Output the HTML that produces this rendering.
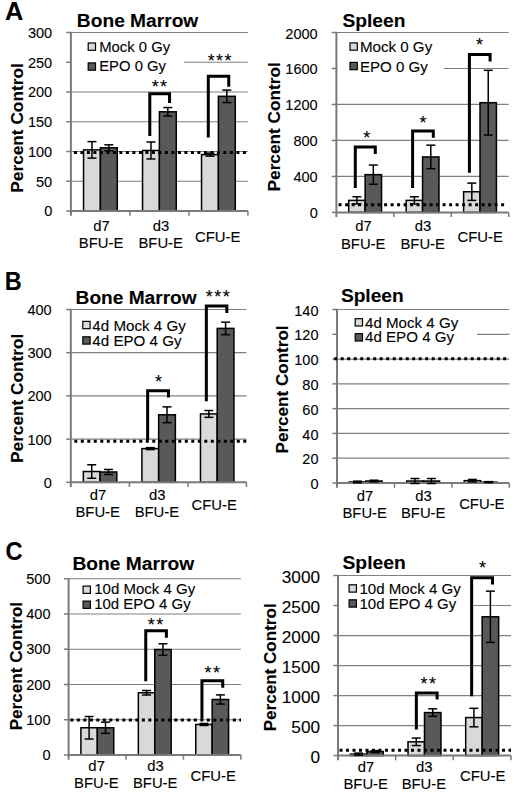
<!DOCTYPE html>
<html><head><meta charset="utf-8"><style>
html,body{margin:0;padding:0;background:#fff;}
svg{display:block;font-family:"Liberation Sans", sans-serif;}
text{stroke:#000;stroke-width:0.1px;}
</style></head><body>
<svg width="520" height="796" viewBox="0 0 520 796">
<rect width="520" height="796" fill="#fff"/>
<line x1="70.9" y1="181.25" x2="247.9" y2="181.25" stroke="#808080" stroke-width="1.2"/>
<line x1="70.9" y1="151.5" x2="247.9" y2="151.5" stroke="#808080" stroke-width="1.2"/>
<line x1="70.9" y1="121.75" x2="247.9" y2="121.75" stroke="#808080" stroke-width="1.2"/>
<line x1="70.9" y1="92.0" x2="247.9" y2="92.0" stroke="#808080" stroke-width="1.2"/>
<line x1="70.9" y1="62.25" x2="247.9" y2="62.25" stroke="#808080" stroke-width="1.2"/>
<line x1="70.9" y1="32.5" x2="247.9" y2="32.5" stroke="#808080" stroke-width="1.2"/>
<rect x="71.5" y="57" width="112.5" height="10" fill="#fff"/>
<rect x="83.54" y="149.87" width="16.86" height="61.13" fill="#d9d9d9" stroke="#000" stroke-width="1.5"/>
<rect x="100.40" y="147.79" width="16.86" height="63.21" fill="#595959" stroke="#000" stroke-width="1.5"/>
<rect x="142.54" y="150.47" width="16.86" height="60.53" fill="#d9d9d9" stroke="#000" stroke-width="1.5"/>
<rect x="159.40" y="111.79" width="16.86" height="99.21" fill="#595959" stroke="#000" stroke-width="1.5"/>
<rect x="201.54" y="154.63" width="16.86" height="56.37" fill="#d9d9d9" stroke="#000" stroke-width="1.5"/>
<rect x="218.40" y="96.32" width="16.86" height="114.68" fill="#595959" stroke="#000" stroke-width="1.5"/>
<line x1="70.9" y1="31.9" x2="70.9" y2="215.7" stroke="#7a7a7a" stroke-width="2"/>
<line x1="66.3" y1="211.0" x2="70.9" y2="211.0" stroke="#7a7a7a" stroke-width="1.5"/>
<line x1="66.3" y1="181.25" x2="70.9" y2="181.25" stroke="#7a7a7a" stroke-width="1.5"/>
<line x1="66.3" y1="151.5" x2="70.9" y2="151.5" stroke="#7a7a7a" stroke-width="1.5"/>
<line x1="66.3" y1="121.75" x2="70.9" y2="121.75" stroke="#7a7a7a" stroke-width="1.5"/>
<line x1="66.3" y1="92.0" x2="70.9" y2="92.0" stroke="#7a7a7a" stroke-width="1.5"/>
<line x1="66.3" y1="62.25" x2="70.9" y2="62.25" stroke="#7a7a7a" stroke-width="1.5"/>
<line x1="66.3" y1="32.5" x2="70.9" y2="32.5" stroke="#7a7a7a" stroke-width="1.5"/>
<line x1="70.9" y1="211" x2="247.9" y2="211" stroke="#7a7a7a" stroke-width="2"/>
<line x1="129.9" y1="211" x2="129.9" y2="215.7" stroke="#7a7a7a" stroke-width="1.5"/>
<line x1="188.9" y1="211" x2="188.9" y2="215.7" stroke="#7a7a7a" stroke-width="1.5"/>
<line x1="247.9" y1="211" x2="247.9" y2="215.7" stroke="#7a7a7a" stroke-width="1.5"/>
<text x="44.13" y="216.40" font-size="15" textLength="8.09" lengthAdjust="spacingAndGlyphs">0</text>
<text x="36.03" y="186.65" font-size="15" textLength="16.18" lengthAdjust="spacingAndGlyphs">50</text>
<text x="27.93" y="156.90" font-size="15" textLength="24.28" lengthAdjust="spacingAndGlyphs">100</text>
<text x="27.93" y="127.15" font-size="15" textLength="24.28" lengthAdjust="spacingAndGlyphs">150</text>
<text x="27.93" y="97.40" font-size="15" textLength="24.28" lengthAdjust="spacingAndGlyphs">200</text>
<text x="27.93" y="67.65" font-size="15" textLength="24.28" lengthAdjust="spacingAndGlyphs">250</text>
<text x="27.93" y="37.90" font-size="15" textLength="24.28" lengthAdjust="spacingAndGlyphs">300</text>
<line x1="73.9" y1="152.60" x2="248" y2="152.60" stroke="#000" stroke-width="3" stroke-dasharray="3 3.5"/>
<line x1="91.97" y1="141.62" x2="91.97" y2="158.12" stroke="#000" stroke-width="1.5"/>
<line x1="87.47" y1="141.62" x2="96.47" y2="141.62" stroke="#000" stroke-width="1.5"/>
<line x1="87.47" y1="158.12" x2="96.47" y2="158.12" stroke="#000" stroke-width="1.5"/>
<line x1="108.83" y1="144.79" x2="108.83" y2="150.79" stroke="#000" stroke-width="1.5"/>
<line x1="104.33" y1="144.79" x2="113.33" y2="144.79" stroke="#000" stroke-width="1.5"/>
<line x1="104.33" y1="150.79" x2="113.33" y2="150.79" stroke="#000" stroke-width="1.5"/>
<line x1="150.97" y1="141.97" x2="150.97" y2="158.97" stroke="#000" stroke-width="1.5"/>
<line x1="146.47" y1="141.97" x2="155.47" y2="141.97" stroke="#000" stroke-width="1.5"/>
<line x1="146.47" y1="158.97" x2="155.47" y2="158.97" stroke="#000" stroke-width="1.5"/>
<line x1="167.83" y1="107.54" x2="167.83" y2="116.04" stroke="#000" stroke-width="1.5"/>
<line x1="163.33" y1="107.54" x2="172.33" y2="107.54" stroke="#000" stroke-width="1.5"/>
<line x1="163.33" y1="116.04" x2="172.33" y2="116.04" stroke="#000" stroke-width="1.5"/>
<line x1="209.97" y1="153.13" x2="209.97" y2="156.13" stroke="#000" stroke-width="1.5"/>
<line x1="205.47" y1="153.13" x2="214.47" y2="153.13" stroke="#000" stroke-width="1.5"/>
<line x1="205.47" y1="156.13" x2="214.47" y2="156.13" stroke="#000" stroke-width="1.5"/>
<line x1="226.83" y1="90.07" x2="226.83" y2="102.57" stroke="#000" stroke-width="1.5"/>
<line x1="222.33" y1="90.07" x2="231.33" y2="90.07" stroke="#000" stroke-width="1.5"/>
<line x1="222.33" y1="102.57" x2="231.33" y2="102.57" stroke="#000" stroke-width="1.5"/>
<polyline points="149.8,135.9 149.8,93.8 169.55,93.8 169.55,102.9" fill="none" stroke="#000" stroke-width="3"/>
<text x="151.68" y="92.95" font-size="18" textLength="7.00" lengthAdjust="spacingAndGlyphs">*</text>
<text x="160.12" y="92.95" font-size="18" textLength="7.00" lengthAdjust="spacingAndGlyphs">*</text>
<polyline points="208.3,137.6 208.3,76.3 228.75,76.3 228.75,86.8" fill="none" stroke="#000" stroke-width="3"/>
<text x="207.65" y="66.95" font-size="18" textLength="7.00" lengthAdjust="spacingAndGlyphs">*</text>
<text x="216.10" y="66.95" font-size="18" textLength="7.00" lengthAdjust="spacingAndGlyphs">*</text>
<text x="224.55" y="66.95" font-size="18" textLength="7.00" lengthAdjust="spacingAndGlyphs">*</text>
<rect x="88.19999999999999" y="43.0" width="7.3" height="7.3" fill="#d9d9d9" stroke="#000" stroke-width="1.2"/>
<text x="99.23" y="52.30" font-size="14.0" textLength="70.98" lengthAdjust="spacingAndGlyphs">Mock 0 Gy</text>
<rect x="88.19999999999999" y="62.9" width="7.3" height="7.3" fill="#595959" stroke="#000" stroke-width="1.2"/>
<text x="99.23" y="71.40" font-size="14.0" textLength="66.80" lengthAdjust="spacingAndGlyphs">EPO 0 Gy</text>
<text x="76.89" y="26.70" font-size="17.5" font-weight="bold" textLength="121.40" lengthAdjust="spacingAndGlyphs">Bone Marrow</text>
<text x="93.19" y="231.30" font-size="14" textLength="16.51" lengthAdjust="spacingAndGlyphs">d7</text>
<text x="78.85" y="248.30" font-size="14" textLength="44.52" lengthAdjust="spacingAndGlyphs">BFU-E</text>
<text x="152.76" y="231.30" font-size="14" textLength="16.51" lengthAdjust="spacingAndGlyphs">d3</text>
<text x="138.45" y="248.30" font-size="14" textLength="44.52" lengthAdjust="spacingAndGlyphs">BFU-E</text>
<text x="195.06" y="241.50" font-size="14" textLength="45.34" lengthAdjust="spacingAndGlyphs">CFU-E</text>
<text transform="translate(22.80,192.68) rotate(-90)" x="0" y="0" font-size="16" font-weight="bold" textLength="129.39" lengthAdjust="spacingAndGlyphs">Percent Control</text>
<line x1="336.4" y1="176.42" x2="508.75" y2="176.42" stroke="#808080" stroke-width="1.2"/>
<line x1="336.4" y1="140.44" x2="508.75" y2="140.44" stroke="#808080" stroke-width="1.2"/>
<line x1="336.4" y1="104.46" x2="508.75" y2="104.46" stroke="#808080" stroke-width="1.2"/>
<line x1="336.4" y1="68.48" x2="508.75" y2="68.48" stroke="#808080" stroke-width="1.2"/>
<line x1="336.4" y1="32.5" x2="508.75" y2="32.5" stroke="#808080" stroke-width="1.2"/>
<rect x="337.5" y="64" width="106.25" height="8" fill="#fff"/>
<rect x="348.71" y="200.38" width="16.41" height="12.02" fill="#d9d9d9" stroke="#000" stroke-width="1.5"/>
<rect x="365.12" y="174.65" width="16.41" height="37.75" fill="#595959" stroke="#000" stroke-width="1.5"/>
<rect x="406.16" y="200.38" width="16.41" height="12.02" fill="#d9d9d9" stroke="#000" stroke-width="1.5"/>
<rect x="422.57" y="156.93" width="16.41" height="55.47" fill="#595959" stroke="#000" stroke-width="1.5"/>
<rect x="463.61" y="191.74" width="16.41" height="20.66" fill="#d9d9d9" stroke="#000" stroke-width="1.5"/>
<rect x="480.02" y="102.69" width="16.41" height="109.71" fill="#595959" stroke="#000" stroke-width="1.5"/>
<line x1="336.4" y1="31.9" x2="336.4" y2="217.1" stroke="#7a7a7a" stroke-width="2"/>
<line x1="331.8" y1="212.4" x2="336.4" y2="212.4" stroke="#7a7a7a" stroke-width="1.5"/>
<line x1="331.8" y1="176.42" x2="336.4" y2="176.42" stroke="#7a7a7a" stroke-width="1.5"/>
<line x1="331.8" y1="140.44" x2="336.4" y2="140.44" stroke="#7a7a7a" stroke-width="1.5"/>
<line x1="331.8" y1="104.46" x2="336.4" y2="104.46" stroke="#7a7a7a" stroke-width="1.5"/>
<line x1="331.8" y1="68.48" x2="336.4" y2="68.48" stroke="#7a7a7a" stroke-width="1.5"/>
<line x1="331.8" y1="32.5" x2="336.4" y2="32.5" stroke="#7a7a7a" stroke-width="1.5"/>
<line x1="336.4" y1="212.4" x2="508.75" y2="212.4" stroke="#7a7a7a" stroke-width="2"/>
<line x1="393.85" y1="212.4" x2="393.85" y2="217.1" stroke="#7a7a7a" stroke-width="1.5"/>
<line x1="451.3" y1="212.4" x2="451.3" y2="217.1" stroke="#7a7a7a" stroke-width="1.5"/>
<line x1="508.75" y1="212.4" x2="508.75" y2="217.1" stroke="#7a7a7a" stroke-width="1.5"/>
<text x="309.63" y="218.40" font-size="15" textLength="8.09" lengthAdjust="spacingAndGlyphs">0</text>
<text x="293.43" y="182.42" font-size="15" textLength="24.28" lengthAdjust="spacingAndGlyphs">400</text>
<text x="293.43" y="146.44" font-size="15" textLength="24.28" lengthAdjust="spacingAndGlyphs">800</text>
<text x="285.33" y="110.46" font-size="15" textLength="32.37" lengthAdjust="spacingAndGlyphs">1200</text>
<text x="285.33" y="74.48" font-size="15" textLength="32.37" lengthAdjust="spacingAndGlyphs">1600</text>
<text x="285.33" y="38.50" font-size="15" textLength="32.37" lengthAdjust="spacingAndGlyphs">2000</text>
<line x1="338.6" y1="204.70" x2="505" y2="204.70" stroke="#000" stroke-width="3" stroke-dasharray="3 3.5"/>
<line x1="356.92" y1="196.78" x2="356.92" y2="203.98" stroke="#000" stroke-width="1.5"/>
<line x1="352.42" y1="196.78" x2="361.42" y2="196.78" stroke="#000" stroke-width="1.5"/>
<line x1="352.42" y1="203.98" x2="361.42" y2="203.98" stroke="#000" stroke-width="1.5"/>
<line x1="373.33" y1="165.05" x2="373.33" y2="184.25" stroke="#000" stroke-width="1.5"/>
<line x1="368.83" y1="165.05" x2="377.83" y2="165.05" stroke="#000" stroke-width="1.5"/>
<line x1="368.83" y1="184.25" x2="377.83" y2="184.25" stroke="#000" stroke-width="1.5"/>
<line x1="414.37" y1="196.78" x2="414.37" y2="203.98" stroke="#000" stroke-width="1.5"/>
<line x1="409.87" y1="196.78" x2="418.87" y2="196.78" stroke="#000" stroke-width="1.5"/>
<line x1="409.87" y1="203.98" x2="418.87" y2="203.98" stroke="#000" stroke-width="1.5"/>
<line x1="430.78" y1="145.18" x2="430.78" y2="168.68" stroke="#000" stroke-width="1.5"/>
<line x1="426.28" y1="145.18" x2="435.28" y2="145.18" stroke="#000" stroke-width="1.5"/>
<line x1="426.28" y1="168.68" x2="435.28" y2="168.68" stroke="#000" stroke-width="1.5"/>
<line x1="471.82" y1="183.09" x2="471.82" y2="200.39" stroke="#000" stroke-width="1.5"/>
<line x1="467.32" y1="183.09" x2="476.32" y2="183.09" stroke="#000" stroke-width="1.5"/>
<line x1="467.32" y1="200.39" x2="476.32" y2="200.39" stroke="#000" stroke-width="1.5"/>
<line x1="488.23" y1="70.34" x2="488.23" y2="135.04" stroke="#000" stroke-width="1.5"/>
<line x1="483.73" y1="70.34" x2="492.73" y2="70.34" stroke="#000" stroke-width="1.5"/>
<line x1="483.73" y1="135.04" x2="492.73" y2="135.04" stroke="#000" stroke-width="1.5"/>
<polyline points="355.3,188 355.3,147.0 375.3,147.0 375.3,154.1" fill="none" stroke="#000" stroke-width="3"/>
<text x="363.20" y="144.35" font-size="18" textLength="7.00" lengthAdjust="spacingAndGlyphs">*</text>
<polyline points="412.6,188 412.6,131.0 433.3,131.0 433.3,137.7" fill="none" stroke="#000" stroke-width="3"/>
<text x="419.50" y="128.75" font-size="18" textLength="7.00" lengthAdjust="spacingAndGlyphs">*</text>
<polyline points="469.4,172.7 469.4,54.4 490.1,54.4 490.1,61.5" fill="none" stroke="#000" stroke-width="3"/>
<text x="476.00" y="51.25" font-size="18" textLength="7.00" lengthAdjust="spacingAndGlyphs">*</text>
<rect x="350.0" y="42.9" width="7.3" height="7.3" fill="#d9d9d9" stroke="#000" stroke-width="1.2"/>
<text x="359.91" y="52.30" font-size="14.0" textLength="72.30" lengthAdjust="spacingAndGlyphs">Mock 0 Gy</text>
<rect x="350.0" y="62.4" width="7.3" height="7.3" fill="#595959" stroke="#000" stroke-width="1.2"/>
<text x="359.91" y="71.50" font-size="14.0" textLength="67.92" lengthAdjust="spacingAndGlyphs">EPO 0 Gy</text>
<text x="342.50" y="26.80" font-size="17.5" font-weight="bold" textLength="62.93" lengthAdjust="spacingAndGlyphs">Spleen</text>
<text x="355.28" y="231.40" font-size="14" textLength="16.51" lengthAdjust="spacingAndGlyphs">d7</text>
<text x="340.95" y="248.70" font-size="14" textLength="44.52" lengthAdjust="spacingAndGlyphs">BFU-E</text>
<text x="414.76" y="231.40" font-size="14" textLength="16.51" lengthAdjust="spacingAndGlyphs">d3</text>
<text x="400.45" y="248.70" font-size="14" textLength="44.52" lengthAdjust="spacingAndGlyphs">BFU-E</text>
<text x="457.56" y="241.80" font-size="14" textLength="45.34" lengthAdjust="spacingAndGlyphs">CFU-E</text>
<text transform="translate(280.00,191.38) rotate(-90)" x="0" y="0" font-size="16" font-weight="bold" textLength="129.08" lengthAdjust="spacingAndGlyphs">Percent Control</text>
<line x1="70.8" y1="439.1" x2="246.5" y2="439.1" stroke="#808080" stroke-width="1.2"/>
<line x1="70.8" y1="395.9" x2="246.5" y2="395.9" stroke="#808080" stroke-width="1.2"/>
<line x1="70.8" y1="352.7" x2="246.5" y2="352.7" stroke="#808080" stroke-width="1.2"/>
<line x1="70.8" y1="309.5" x2="246.5" y2="309.5" stroke="#808080" stroke-width="1.2"/>
<rect x="83.35" y="471.52" width="16.73" height="10.78" fill="#d9d9d9" stroke="#000" stroke-width="1.5"/>
<rect x="100.08" y="471.99" width="16.73" height="10.31" fill="#595959" stroke="#000" stroke-width="1.5"/>
<rect x="141.92" y="448.62" width="16.73" height="33.68" fill="#d9d9d9" stroke="#000" stroke-width="1.5"/>
<rect x="158.65" y="414.79" width="16.73" height="67.51" fill="#595959" stroke="#000" stroke-width="1.5"/>
<rect x="200.48" y="413.93" width="16.73" height="68.37" fill="#d9d9d9" stroke="#000" stroke-width="1.5"/>
<rect x="217.22" y="328.39" width="16.73" height="153.91" fill="#595959" stroke="#000" stroke-width="1.5"/>
<line x1="70.8" y1="308.9" x2="70.8" y2="487.0" stroke="#7a7a7a" stroke-width="2"/>
<line x1="66.2" y1="482.3" x2="70.8" y2="482.3" stroke="#7a7a7a" stroke-width="1.5"/>
<line x1="66.2" y1="439.1" x2="70.8" y2="439.1" stroke="#7a7a7a" stroke-width="1.5"/>
<line x1="66.2" y1="395.9" x2="70.8" y2="395.9" stroke="#7a7a7a" stroke-width="1.5"/>
<line x1="66.2" y1="352.7" x2="70.8" y2="352.7" stroke="#7a7a7a" stroke-width="1.5"/>
<line x1="66.2" y1="309.5" x2="70.8" y2="309.5" stroke="#7a7a7a" stroke-width="1.5"/>
<line x1="70.8" y1="482.3" x2="246.5" y2="482.3" stroke="#7a7a7a" stroke-width="2"/>
<line x1="129.37" y1="482.3" x2="129.37" y2="487.0" stroke="#7a7a7a" stroke-width="1.5"/>
<line x1="187.93" y1="482.3" x2="187.93" y2="487.0" stroke="#7a7a7a" stroke-width="1.5"/>
<line x1="246.5" y1="482.3" x2="246.5" y2="487.0" stroke="#7a7a7a" stroke-width="1.5"/>
<text x="43.63" y="487.80" font-size="15" textLength="8.09" lengthAdjust="spacingAndGlyphs">0</text>
<text x="27.43" y="444.60" font-size="15" textLength="24.28" lengthAdjust="spacingAndGlyphs">100</text>
<text x="27.43" y="401.40" font-size="15" textLength="24.28" lengthAdjust="spacingAndGlyphs">200</text>
<text x="27.43" y="358.20" font-size="15" textLength="24.28" lengthAdjust="spacingAndGlyphs">300</text>
<text x="27.43" y="315.00" font-size="15" textLength="24.28" lengthAdjust="spacingAndGlyphs">400</text>
<line x1="74.3" y1="441.25" x2="247" y2="441.25" stroke="#000" stroke-width="3" stroke-dasharray="3 3.5"/>
<line x1="91.72" y1="464.77" x2="91.72" y2="478.27" stroke="#000" stroke-width="1.5"/>
<line x1="87.22" y1="464.77" x2="96.22" y2="464.77" stroke="#000" stroke-width="1.5"/>
<line x1="87.22" y1="478.27" x2="96.22" y2="478.27" stroke="#000" stroke-width="1.5"/>
<line x1="108.45" y1="469.49" x2="108.45" y2="474.49" stroke="#000" stroke-width="1.5"/>
<line x1="103.95" y1="469.49" x2="112.95" y2="469.49" stroke="#000" stroke-width="1.5"/>
<line x1="103.95" y1="474.49" x2="112.95" y2="474.49" stroke="#000" stroke-width="1.5"/>
<line x1="150.28" y1="447.62" x2="150.28" y2="449.62" stroke="#000" stroke-width="1.5"/>
<line x1="145.78" y1="447.62" x2="154.78" y2="447.62" stroke="#000" stroke-width="1.5"/>
<line x1="145.78" y1="449.62" x2="154.78" y2="449.62" stroke="#000" stroke-width="1.5"/>
<line x1="167.02" y1="406.89" x2="167.02" y2="422.69" stroke="#000" stroke-width="1.5"/>
<line x1="162.52" y1="406.89" x2="171.52" y2="406.89" stroke="#000" stroke-width="1.5"/>
<line x1="162.52" y1="422.69" x2="171.52" y2="422.69" stroke="#000" stroke-width="1.5"/>
<line x1="208.85" y1="410.53" x2="208.85" y2="417.33" stroke="#000" stroke-width="1.5"/>
<line x1="204.35" y1="410.53" x2="213.35" y2="410.53" stroke="#000" stroke-width="1.5"/>
<line x1="204.35" y1="417.33" x2="213.35" y2="417.33" stroke="#000" stroke-width="1.5"/>
<line x1="225.58" y1="322.14" x2="225.58" y2="334.64" stroke="#000" stroke-width="1.5"/>
<line x1="221.08" y1="322.14" x2="230.08" y2="322.14" stroke="#000" stroke-width="1.5"/>
<line x1="221.08" y1="334.64" x2="230.08" y2="334.64" stroke="#000" stroke-width="1.5"/>
<polyline points="147.65,440 147.65,390.7 168.45,390.7 168.45,397.5" fill="none" stroke="#000" stroke-width="3"/>
<text x="155.05" y="387.55" font-size="18" textLength="7.00" lengthAdjust="spacingAndGlyphs">*</text>
<polyline points="206.35,401.25 206.35,305.9 226.85,305.9 226.85,313.1" fill="none" stroke="#000" stroke-width="3"/>
<text x="205.85" y="302.90" font-size="18" textLength="7.00" lengthAdjust="spacingAndGlyphs">*</text>
<text x="214.30" y="302.90" font-size="18" textLength="7.00" lengthAdjust="spacingAndGlyphs">*</text>
<text x="222.75" y="302.90" font-size="18" textLength="7.00" lengthAdjust="spacingAndGlyphs">*</text>
<rect x="82.8" y="321.40000000000003" width="7.3" height="7.3" fill="#d9d9d9" stroke="#000" stroke-width="1.2"/>
<text x="92.33" y="330.50" font-size="14.0" textLength="93.50" lengthAdjust="spacingAndGlyphs">4d Mock 4 Gy</text>
<rect x="82.8" y="336.8" width="7.3" height="7.3" fill="#595959" stroke="#000" stroke-width="1.2"/>
<text x="92.33" y="345.50" font-size="14.0" textLength="89.26" lengthAdjust="spacingAndGlyphs">4d EPO 4 Gy</text>
<text x="75.59" y="304.20" font-size="17.5" font-weight="bold" textLength="121.10" lengthAdjust="spacingAndGlyphs">Bone Marrow</text>
<text x="89.78" y="500.30" font-size="14" textLength="16.51" lengthAdjust="spacingAndGlyphs">d7</text>
<text x="75.45" y="517.00" font-size="14" textLength="44.52" lengthAdjust="spacingAndGlyphs">BFU-E</text>
<text x="148.96" y="500.30" font-size="14" textLength="16.51" lengthAdjust="spacingAndGlyphs">d3</text>
<text x="134.65" y="517.00" font-size="14" textLength="44.52" lengthAdjust="spacingAndGlyphs">BFU-E</text>
<text x="191.56" y="509.60" font-size="14" textLength="45.34" lengthAdjust="spacingAndGlyphs">CFU-E</text>
<text transform="translate(22.60,462.88) rotate(-90)" x="0" y="0" font-size="16" font-weight="bold" textLength="129.08" lengthAdjust="spacingAndGlyphs">Percent Control</text>
<line x1="337" y1="458.21" x2="509.3" y2="458.21" stroke="#808080" stroke-width="1.2"/>
<line x1="337" y1="433.43" x2="509.3" y2="433.43" stroke="#808080" stroke-width="1.2"/>
<line x1="337" y1="408.64" x2="509.3" y2="408.64" stroke="#808080" stroke-width="1.2"/>
<line x1="337" y1="383.86" x2="509.3" y2="383.86" stroke="#808080" stroke-width="1.2"/>
<line x1="337" y1="359.07" x2="509.3" y2="359.07" stroke="#808080" stroke-width="1.2"/>
<line x1="337" y1="334.29" x2="509.3" y2="334.29" stroke="#808080" stroke-width="1.2"/>
<line x1="337" y1="309.5" x2="509.3" y2="309.5" stroke="#808080" stroke-width="1.2"/>
<rect x="338" y="329" width="139" height="10" fill="#fff"/>
<rect x="349.31" y="481.95" width="16.41" height="1.05" fill="#d9d9d9" stroke="#000" stroke-width="1.5"/>
<rect x="365.72" y="481.02" width="16.41" height="1.98" fill="#595959" stroke="#000" stroke-width="1.5"/>
<rect x="406.74" y="481.02" width="16.41" height="1.98" fill="#d9d9d9" stroke="#000" stroke-width="1.5"/>
<rect x="423.15" y="481.02" width="16.41" height="1.98" fill="#595959" stroke="#000" stroke-width="1.5"/>
<rect x="464.17" y="480.65" width="16.41" height="2.35" fill="#d9d9d9" stroke="#000" stroke-width="1.5"/>
<rect x="480.58" y="482.14" width="16.41" height="0.86" fill="#595959" stroke="#000" stroke-width="1.5"/>
<line x1="337" y1="308.9" x2="337" y2="487.7" stroke="#7a7a7a" stroke-width="2"/>
<line x1="332.4" y1="483.0" x2="337" y2="483.0" stroke="#7a7a7a" stroke-width="1.5"/>
<line x1="332.4" y1="458.21" x2="337" y2="458.21" stroke="#7a7a7a" stroke-width="1.5"/>
<line x1="332.4" y1="433.43" x2="337" y2="433.43" stroke="#7a7a7a" stroke-width="1.5"/>
<line x1="332.4" y1="408.64" x2="337" y2="408.64" stroke="#7a7a7a" stroke-width="1.5"/>
<line x1="332.4" y1="383.86" x2="337" y2="383.86" stroke="#7a7a7a" stroke-width="1.5"/>
<line x1="332.4" y1="359.07" x2="337" y2="359.07" stroke="#7a7a7a" stroke-width="1.5"/>
<line x1="332.4" y1="334.29" x2="337" y2="334.29" stroke="#7a7a7a" stroke-width="1.5"/>
<line x1="332.4" y1="309.5" x2="337" y2="309.5" stroke="#7a7a7a" stroke-width="1.5"/>
<line x1="337" y1="483" x2="509.3" y2="483" stroke="#7a7a7a" stroke-width="2"/>
<line x1="394.43" y1="483" x2="394.43" y2="487.7" stroke="#7a7a7a" stroke-width="1.5"/>
<line x1="451.87" y1="483" x2="451.87" y2="487.7" stroke="#7a7a7a" stroke-width="1.5"/>
<line x1="509.3" y1="483" x2="509.3" y2="487.7" stroke="#7a7a7a" stroke-width="1.5"/>
<text x="310.43" y="489.20" font-size="15" textLength="8.09" lengthAdjust="spacingAndGlyphs">0</text>
<text x="302.33" y="464.41" font-size="15" textLength="16.18" lengthAdjust="spacingAndGlyphs">20</text>
<text x="302.33" y="439.63" font-size="15" textLength="16.18" lengthAdjust="spacingAndGlyphs">40</text>
<text x="302.33" y="414.84" font-size="15" textLength="16.18" lengthAdjust="spacingAndGlyphs">60</text>
<text x="302.33" y="390.06" font-size="15" textLength="16.18" lengthAdjust="spacingAndGlyphs">80</text>
<text x="294.23" y="365.27" font-size="15" textLength="24.28" lengthAdjust="spacingAndGlyphs">100</text>
<text x="294.23" y="340.49" font-size="15" textLength="24.28" lengthAdjust="spacingAndGlyphs">120</text>
<text x="294.23" y="315.70" font-size="15" textLength="24.28" lengthAdjust="spacingAndGlyphs">140</text>
<line x1="334.2" y1="358.70" x2="507.5" y2="358.70" stroke="#000" stroke-width="3" stroke-dasharray="3 3.5"/>
<line x1="357.51" y1="481.15" x2="357.51" y2="482.75" stroke="#000" stroke-width="1.5"/>
<line x1="353.01" y1="481.15" x2="362.01" y2="481.15" stroke="#000" stroke-width="1.5"/>
<line x1="353.01" y1="482.75" x2="362.01" y2="482.75" stroke="#000" stroke-width="1.5"/>
<line x1="373.92" y1="480.22" x2="373.92" y2="481.82" stroke="#000" stroke-width="1.5"/>
<line x1="369.42" y1="480.22" x2="378.42" y2="480.22" stroke="#000" stroke-width="1.5"/>
<line x1="369.42" y1="481.82" x2="378.42" y2="481.82" stroke="#000" stroke-width="1.5"/>
<line x1="414.95" y1="478.52" x2="414.95" y2="483.52" stroke="#000" stroke-width="1.5"/>
<line x1="410.45" y1="478.52" x2="419.45" y2="478.52" stroke="#000" stroke-width="1.5"/>
<line x1="410.45" y1="483.52" x2="419.45" y2="483.52" stroke="#000" stroke-width="1.5"/>
<line x1="431.35" y1="478.52" x2="431.35" y2="483.52" stroke="#000" stroke-width="1.5"/>
<line x1="426.85" y1="478.52" x2="435.85" y2="478.52" stroke="#000" stroke-width="1.5"/>
<line x1="426.85" y1="483.52" x2="435.85" y2="483.52" stroke="#000" stroke-width="1.5"/>
<line x1="472.38" y1="479.45" x2="472.38" y2="481.85" stroke="#000" stroke-width="1.5"/>
<line x1="467.88" y1="479.45" x2="476.88" y2="479.45" stroke="#000" stroke-width="1.5"/>
<line x1="467.88" y1="481.85" x2="476.88" y2="481.85" stroke="#000" stroke-width="1.5"/>
<line x1="488.79" y1="481.64" x2="488.79" y2="482.64" stroke="#000" stroke-width="1.5"/>
<line x1="484.29" y1="481.64" x2="493.29" y2="481.64" stroke="#000" stroke-width="1.5"/>
<line x1="484.29" y1="482.64" x2="493.29" y2="482.64" stroke="#000" stroke-width="1.5"/>
<rect x="355.20000000000005" y="318.70000000000005" width="7.3" height="7.3" fill="#d9d9d9" stroke="#000" stroke-width="1.2"/>
<text x="365.03" y="328.00" font-size="14.0" textLength="93.19" lengthAdjust="spacingAndGlyphs">4d Mock 4 Gy</text>
<rect x="355.20000000000005" y="333.70000000000005" width="7.3" height="7.3" fill="#595959" stroke="#000" stroke-width="1.2"/>
<text x="365.03" y="342.30" font-size="14.0" textLength="89.06" lengthAdjust="spacingAndGlyphs">4d EPO 4 Gy</text>
<text x="340.90" y="301.90" font-size="17.5" font-weight="bold" textLength="62.83" lengthAdjust="spacingAndGlyphs">Spleen</text>
<text x="356.78" y="500.70" font-size="14" textLength="16.51" lengthAdjust="spacingAndGlyphs">d7</text>
<text x="342.45" y="517.70" font-size="14" textLength="44.52" lengthAdjust="spacingAndGlyphs">BFU-E</text>
<text x="415.26" y="500.70" font-size="14" textLength="16.51" lengthAdjust="spacingAndGlyphs">d3</text>
<text x="400.95" y="517.70" font-size="14" textLength="44.52" lengthAdjust="spacingAndGlyphs">BFU-E</text>
<text x="459.16" y="509.20" font-size="14" textLength="45.34" lengthAdjust="spacingAndGlyphs">CFU-E</text>
<text transform="translate(287.90,453.47) rotate(-90)" x="0" y="0" font-size="16" font-weight="bold" textLength="128.06" lengthAdjust="spacingAndGlyphs">Percent Control</text>
<line x1="68.6" y1="719.75" x2="240.9" y2="719.75" stroke="#808080" stroke-width="1.2"/>
<line x1="68.6" y1="684.5" x2="240.9" y2="684.5" stroke="#808080" stroke-width="1.2"/>
<line x1="68.6" y1="649.25" x2="240.9" y2="649.25" stroke="#808080" stroke-width="1.2"/>
<line x1="68.6" y1="614.0" x2="240.9" y2="614.0" stroke="#808080" stroke-width="1.2"/>
<line x1="68.6" y1="578.75" x2="240.9" y2="578.75" stroke="#808080" stroke-width="1.2"/>
<rect x="80.91" y="727.76" width="16.41" height="27.24" fill="#d9d9d9" stroke="#000" stroke-width="1.5"/>
<rect x="97.32" y="727.76" width="16.41" height="27.24" fill="#595959" stroke="#000" stroke-width="1.5"/>
<rect x="138.34" y="692.76" width="16.41" height="62.24" fill="#d9d9d9" stroke="#000" stroke-width="1.5"/>
<rect x="154.75" y="649.54" width="16.41" height="105.46" fill="#595959" stroke="#000" stroke-width="1.5"/>
<rect x="195.77" y="724.48" width="16.41" height="30.52" fill="#d9d9d9" stroke="#000" stroke-width="1.5"/>
<rect x="212.18" y="699.49" width="16.41" height="55.51" fill="#595959" stroke="#000" stroke-width="1.5"/>
<line x1="68.6" y1="578.15" x2="68.6" y2="759.7" stroke="#7a7a7a" stroke-width="2"/>
<line x1="64.0" y1="755.0" x2="68.6" y2="755.0" stroke="#7a7a7a" stroke-width="1.5"/>
<line x1="64.0" y1="719.75" x2="68.6" y2="719.75" stroke="#7a7a7a" stroke-width="1.5"/>
<line x1="64.0" y1="684.5" x2="68.6" y2="684.5" stroke="#7a7a7a" stroke-width="1.5"/>
<line x1="64.0" y1="649.25" x2="68.6" y2="649.25" stroke="#7a7a7a" stroke-width="1.5"/>
<line x1="64.0" y1="614.0" x2="68.6" y2="614.0" stroke="#7a7a7a" stroke-width="1.5"/>
<line x1="64.0" y1="578.75" x2="68.6" y2="578.75" stroke="#7a7a7a" stroke-width="1.5"/>
<line x1="68.6" y1="755" x2="240.9" y2="755" stroke="#7a7a7a" stroke-width="2"/>
<line x1="126.03" y1="755" x2="126.03" y2="759.7" stroke="#7a7a7a" stroke-width="1.5"/>
<line x1="183.47" y1="755" x2="183.47" y2="759.7" stroke="#7a7a7a" stroke-width="1.5"/>
<line x1="240.9" y1="755" x2="240.9" y2="759.7" stroke="#7a7a7a" stroke-width="1.5"/>
<text x="42.43" y="760.20" font-size="15" textLength="8.09" lengthAdjust="spacingAndGlyphs">0</text>
<text x="26.23" y="724.95" font-size="15" textLength="24.28" lengthAdjust="spacingAndGlyphs">100</text>
<text x="26.23" y="689.70" font-size="15" textLength="24.28" lengthAdjust="spacingAndGlyphs">200</text>
<text x="26.23" y="654.45" font-size="15" textLength="24.28" lengthAdjust="spacingAndGlyphs">300</text>
<text x="26.23" y="619.20" font-size="15" textLength="24.28" lengthAdjust="spacingAndGlyphs">400</text>
<text x="26.23" y="583.95" font-size="15" textLength="24.28" lengthAdjust="spacingAndGlyphs">500</text>
<line x1="70.35" y1="720.10" x2="241" y2="720.10" stroke="#000" stroke-width="3" stroke-dasharray="3 3.5"/>
<line x1="89.11" y1="716.51" x2="89.11" y2="739.01" stroke="#000" stroke-width="1.5"/>
<line x1="84.61" y1="716.51" x2="93.61" y2="716.51" stroke="#000" stroke-width="1.5"/>
<line x1="84.61" y1="739.01" x2="93.61" y2="739.01" stroke="#000" stroke-width="1.5"/>
<line x1="105.52" y1="722.16" x2="105.52" y2="733.36" stroke="#000" stroke-width="1.5"/>
<line x1="101.02" y1="722.16" x2="110.02" y2="722.16" stroke="#000" stroke-width="1.5"/>
<line x1="101.02" y1="733.36" x2="110.02" y2="733.36" stroke="#000" stroke-width="1.5"/>
<line x1="146.55" y1="690.51" x2="146.55" y2="695.01" stroke="#000" stroke-width="1.5"/>
<line x1="142.05" y1="690.51" x2="151.05" y2="690.51" stroke="#000" stroke-width="1.5"/>
<line x1="142.05" y1="695.01" x2="151.05" y2="695.01" stroke="#000" stroke-width="1.5"/>
<line x1="162.95" y1="643.79" x2="162.95" y2="655.29" stroke="#000" stroke-width="1.5"/>
<line x1="158.45" y1="643.79" x2="167.45" y2="643.79" stroke="#000" stroke-width="1.5"/>
<line x1="158.45" y1="655.29" x2="167.45" y2="655.29" stroke="#000" stroke-width="1.5"/>
<line x1="203.98" y1="723.48" x2="203.98" y2="725.48" stroke="#000" stroke-width="1.5"/>
<line x1="199.48" y1="723.48" x2="208.48" y2="723.48" stroke="#000" stroke-width="1.5"/>
<line x1="199.48" y1="725.48" x2="208.48" y2="725.48" stroke="#000" stroke-width="1.5"/>
<line x1="220.39" y1="694.89" x2="220.39" y2="704.09" stroke="#000" stroke-width="1.5"/>
<line x1="215.89" y1="694.89" x2="224.89" y2="694.89" stroke="#000" stroke-width="1.5"/>
<line x1="215.89" y1="704.09" x2="224.89" y2="704.09" stroke="#000" stroke-width="1.5"/>
<polyline points="145.75,681.25 145.75,630.8 166.4,630.8 166.4,637.8" fill="none" stroke="#000" stroke-width="3"/>
<text x="147.78" y="630.90" font-size="18" textLength="7.00" lengthAdjust="spacingAndGlyphs">*</text>
<text x="156.22" y="630.90" font-size="18" textLength="7.00" lengthAdjust="spacingAndGlyphs">*</text>
<polyline points="201.95,718.75 201.95,680.7 222.75,680.7 222.75,687.8" fill="none" stroke="#000" stroke-width="3"/>
<text x="204.62" y="678.75" font-size="18" textLength="7.00" lengthAdjust="spacingAndGlyphs">*</text>
<text x="213.07" y="678.75" font-size="18" textLength="7.00" lengthAdjust="spacingAndGlyphs">*</text>
<rect x="83.1" y="586.1" width="7.3" height="7.3" fill="#d9d9d9" stroke="#000" stroke-width="1.2"/>
<text x="94.22" y="594.25" font-size="14.0" textLength="100.98" lengthAdjust="spacingAndGlyphs">10d Mock 4 Gy</text>
<rect x="83.1" y="601.1" width="7.3" height="7.3" fill="#595959" stroke="#000" stroke-width="1.2"/>
<text x="94.23" y="609.25" font-size="14.0" textLength="96.50" lengthAdjust="spacingAndGlyphs">10d EPO 4 Gy</text>
<text x="72.49" y="569.50" font-size="17.5" font-weight="bold" textLength="121.60" lengthAdjust="spacingAndGlyphs">Bone Marrow</text>
<text x="88.38" y="770.70" font-size="14" textLength="16.51" lengthAdjust="spacingAndGlyphs">d7</text>
<text x="74.05" y="787.70" font-size="14" textLength="44.52" lengthAdjust="spacingAndGlyphs">BFU-E</text>
<text x="147.26" y="770.70" font-size="14" textLength="16.51" lengthAdjust="spacingAndGlyphs">d3</text>
<text x="132.95" y="787.70" font-size="14" textLength="44.52" lengthAdjust="spacingAndGlyphs">BFU-E</text>
<text x="190.56" y="781.00" font-size="14" textLength="45.34" lengthAdjust="spacingAndGlyphs">CFU-E</text>
<text transform="translate(22.20,730.37) rotate(-90)" x="0" y="0" font-size="16" font-weight="bold" textLength="128.47" lengthAdjust="spacingAndGlyphs">Percent Control</text>
<line x1="338" y1="725.58" x2="511" y2="725.58" stroke="#808080" stroke-width="1.2"/>
<line x1="338" y1="695.57" x2="511" y2="695.57" stroke="#808080" stroke-width="1.2"/>
<line x1="338" y1="665.55" x2="511" y2="665.55" stroke="#808080" stroke-width="1.2"/>
<line x1="338" y1="635.53" x2="511" y2="635.53" stroke="#808080" stroke-width="1.2"/>
<line x1="338" y1="605.52" x2="511" y2="605.52" stroke="#808080" stroke-width="1.2"/>
<line x1="338" y1="575.5" x2="511" y2="575.5" stroke="#808080" stroke-width="1.2"/>
<rect x="339" y="601" width="131" height="10" fill="#fff"/>
<rect x="350.36" y="754.13" width="16.48" height="1.47" fill="#d9d9d9" stroke="#000" stroke-width="1.5"/>
<rect x="366.83" y="751.61" width="16.48" height="3.99" fill="#595959" stroke="#000" stroke-width="1.5"/>
<rect x="408.02" y="741.82" width="16.48" height="13.78" fill="#d9d9d9" stroke="#000" stroke-width="1.5"/>
<rect x="424.50" y="712.59" width="16.48" height="43.01" fill="#595959" stroke="#000" stroke-width="1.5"/>
<rect x="465.69" y="717.57" width="16.48" height="38.03" fill="#d9d9d9" stroke="#000" stroke-width="1.5"/>
<rect x="482.17" y="616.77" width="16.48" height="138.83" fill="#595959" stroke="#000" stroke-width="1.5"/>
<line x1="338" y1="574.9" x2="338" y2="760.3" stroke="#7a7a7a" stroke-width="2"/>
<line x1="333.4" y1="755.6" x2="338" y2="755.6" stroke="#7a7a7a" stroke-width="1.5"/>
<line x1="333.4" y1="725.58" x2="338" y2="725.58" stroke="#7a7a7a" stroke-width="1.5"/>
<line x1="333.4" y1="695.57" x2="338" y2="695.57" stroke="#7a7a7a" stroke-width="1.5"/>
<line x1="333.4" y1="665.55" x2="338" y2="665.55" stroke="#7a7a7a" stroke-width="1.5"/>
<line x1="333.4" y1="635.53" x2="338" y2="635.53" stroke="#7a7a7a" stroke-width="1.5"/>
<line x1="333.4" y1="605.52" x2="338" y2="605.52" stroke="#7a7a7a" stroke-width="1.5"/>
<line x1="333.4" y1="575.5" x2="338" y2="575.5" stroke="#7a7a7a" stroke-width="1.5"/>
<line x1="338" y1="755.6" x2="511" y2="755.6" stroke="#7a7a7a" stroke-width="2"/>
<line x1="395.67" y1="755.6" x2="395.67" y2="760.3" stroke="#7a7a7a" stroke-width="1.5"/>
<line x1="453.33" y1="755.6" x2="453.33" y2="760.3" stroke="#7a7a7a" stroke-width="1.5"/>
<line x1="511.0" y1="755.6" x2="511.0" y2="760.3" stroke="#7a7a7a" stroke-width="1.5"/>
<text x="310.50" y="762.70" font-size="17.2" textLength="9.57" lengthAdjust="spacingAndGlyphs">0</text>
<text x="291.35" y="732.68" font-size="17.2" textLength="28.70" lengthAdjust="spacingAndGlyphs">500</text>
<text x="281.80" y="702.67" font-size="17.2" textLength="38.26" lengthAdjust="spacingAndGlyphs">1000</text>
<text x="281.80" y="672.65" font-size="17.2" textLength="38.26" lengthAdjust="spacingAndGlyphs">1500</text>
<text x="281.80" y="642.63" font-size="17.2" textLength="38.26" lengthAdjust="spacingAndGlyphs">2000</text>
<text x="281.80" y="612.62" font-size="17.2" textLength="38.26" lengthAdjust="spacingAndGlyphs">2500</text>
<text x="281.80" y="582.60" font-size="17.2" textLength="38.26" lengthAdjust="spacingAndGlyphs">3000</text>
<line x1="339.5" y1="750.30" x2="511" y2="750.30" stroke="#000" stroke-width="3" stroke-dasharray="3 3.5"/>
<line x1="358.6" y1="753.13" x2="358.6" y2="755.13" stroke="#000" stroke-width="1.5"/>
<line x1="354.1" y1="753.13" x2="363.1" y2="753.13" stroke="#000" stroke-width="1.5"/>
<line x1="354.1" y1="755.13" x2="363.1" y2="755.13" stroke="#000" stroke-width="1.5"/>
<line x1="375.07" y1="750.61" x2="375.07" y2="752.61" stroke="#000" stroke-width="1.5"/>
<line x1="370.57" y1="750.61" x2="379.57" y2="750.61" stroke="#000" stroke-width="1.5"/>
<line x1="370.57" y1="752.61" x2="379.57" y2="752.61" stroke="#000" stroke-width="1.5"/>
<line x1="416.26" y1="738.07" x2="416.26" y2="745.57" stroke="#000" stroke-width="1.5"/>
<line x1="411.76" y1="738.07" x2="420.76" y2="738.07" stroke="#000" stroke-width="1.5"/>
<line x1="411.76" y1="745.57" x2="420.76" y2="745.57" stroke="#000" stroke-width="1.5"/>
<line x1="432.74" y1="708.84" x2="432.74" y2="716.34" stroke="#000" stroke-width="1.5"/>
<line x1="428.24" y1="708.84" x2="437.24" y2="708.84" stroke="#000" stroke-width="1.5"/>
<line x1="428.24" y1="716.34" x2="437.24" y2="716.34" stroke="#000" stroke-width="1.5"/>
<line x1="473.93" y1="708.32" x2="473.93" y2="726.82" stroke="#000" stroke-width="1.5"/>
<line x1="469.43" y1="708.32" x2="478.43" y2="708.32" stroke="#000" stroke-width="1.5"/>
<line x1="469.43" y1="726.82" x2="478.43" y2="726.82" stroke="#000" stroke-width="1.5"/>
<line x1="490.4" y1="591.17" x2="490.4" y2="642.37" stroke="#000" stroke-width="1.5"/>
<line x1="485.9" y1="591.17" x2="494.9" y2="591.17" stroke="#000" stroke-width="1.5"/>
<line x1="485.9" y1="642.37" x2="494.9" y2="642.37" stroke="#000" stroke-width="1.5"/>
<polyline points="416.35,729.5 416.35,692.9 437.15,692.9 437.15,699.6" fill="none" stroke="#000" stroke-width="3"/>
<text x="420.47" y="689.55" font-size="18" textLength="7.00" lengthAdjust="spacingAndGlyphs">*</text>
<text x="428.93" y="689.55" font-size="18" textLength="7.00" lengthAdjust="spacingAndGlyphs">*</text>
<polyline points="471.65,696.25 471.65,577.65 492.5,577.65 492.5,584.6" fill="none" stroke="#000" stroke-width="3"/>
<text x="478.95" y="574.25" font-size="18" textLength="7.00" lengthAdjust="spacingAndGlyphs">*</text>
<rect x="349.1" y="584.8000000000001" width="7.3" height="7.3" fill="#d9d9d9" stroke="#000" stroke-width="1.2"/>
<text x="359.47" y="593.50" font-size="14.0" textLength="101.23" lengthAdjust="spacingAndGlyphs">10d Mock 4 Gy</text>
<rect x="349.1" y="599.8000000000001" width="7.3" height="7.3" fill="#595959" stroke="#000" stroke-width="1.2"/>
<text x="359.47" y="608.50" font-size="14.0" textLength="96.75" lengthAdjust="spacingAndGlyphs">10d EPO 4 Gy</text>
<text x="342.50" y="569.10" font-size="17.5" font-weight="bold" textLength="63.24" lengthAdjust="spacingAndGlyphs">Spleen</text>
<text x="357.78" y="772.00" font-size="14" textLength="16.51" lengthAdjust="spacingAndGlyphs">d7</text>
<text x="343.45" y="789.20" font-size="14" textLength="44.52" lengthAdjust="spacingAndGlyphs">BFU-E</text>
<text x="415.96" y="772.00" font-size="14" textLength="16.51" lengthAdjust="spacingAndGlyphs">d3</text>
<text x="401.65" y="789.20" font-size="14" textLength="44.52" lengthAdjust="spacingAndGlyphs">BFU-E</text>
<text x="459.96" y="780.60" font-size="14" textLength="45.34" lengthAdjust="spacingAndGlyphs">CFU-E</text>
<text transform="translate(276.30,731.37) rotate(-90)" x="0" y="0" font-size="16" font-weight="bold" textLength="128.06" lengthAdjust="spacingAndGlyphs">Percent Control</text>
<text x="4.90" y="19.50" font-size="25.5" font-weight="bold" textLength="18.31" lengthAdjust="spacingAndGlyphs">A</text>
<text x="4.85" y="290.30" font-size="25.5" font-weight="bold" textLength="16.94" lengthAdjust="spacingAndGlyphs">B</text>
<text x="5.44" y="560.30" font-size="25.5" font-weight="bold" textLength="17.08" lengthAdjust="spacingAndGlyphs">C</text>
</svg>
</body></html>
